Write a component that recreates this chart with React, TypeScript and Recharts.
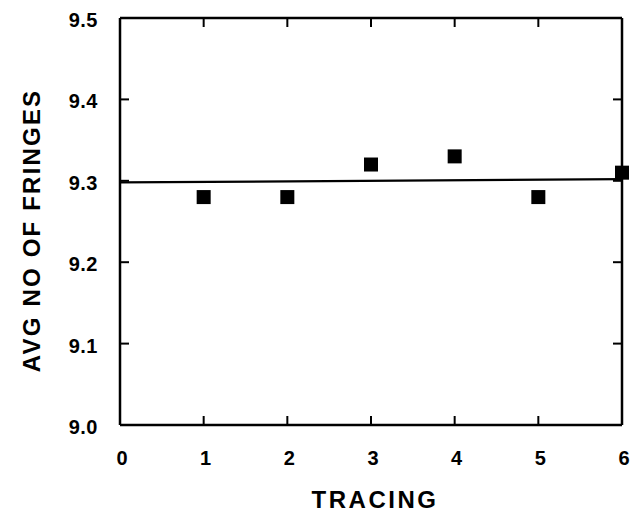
import { Label, Scatter, ScatterChart, XAxis, YAxis } from 'recharts'

const tracing = [1, 2, 3, 4, 5, 6]
const avgFringes = [9.28, 9.28, 9.32, 9.33, 9.28, 9.31]
const fitX = [0, 6]
const fitY = [9.298, 9.302]
const xTicks = [0, 1, 2, 3, 4, 5, 6]
const yTicks = [9.0, 9.1, 9.2, 9.3, 9.4, 9.5]

const points = tracing.map((x, i) => ({ x, y: avgFringes[i] }))
const fit = fitX.map((x, i) => ({ x, y: fitY[i] }))

const FONT = '"Liberation Sans", Arial, sans-serif'
const TICK = 9
const INK = '#000'
const frame = { stroke: INK, strokeWidth: 2.5 }
const tickStroke = { stroke: INK, strokeWidth: 2 }

function BottomTick({ x, y, payload }: any) {
  // y is the inner end of the tick line (axis - TICK)
  return (
    <text x={x + 2} y={y + TICK + 40} textAnchor="middle" fontFamily={FONT} fontWeight="bold" fontSize={20} fill={INK}>
      {payload.value}
    </text>
  )
}

function LeftTick({ x, y, payload }: any) {
  return (
    <text x={x - TICK - 22} y={y + 9} textAnchor="end" fontFamily={FONT} fontWeight="bold" fontSize={20} letterSpacing={0.5} fill={INK}>
      {Number(payload.value).toFixed(1)}
    </text>
  )
}

function NoTick() {
  return null
}

function SquareDot({ cx, cy }: any) {
  return <rect x={cx - 7} y={cy - 7} width={14} height={14} fill={INK} />
}

export default function App() {
  return (
    <div style={{ position: 'absolute', left: 0, top: 0, width: 638, height: 513, background: '#fff' }}>
      <ScatterChart width={638} height={513} margin={{ top: 17, right: 15, left: 0, bottom: 0 }}>
        <XAxis
          xAxisId="b"
          type="number"
          dataKey="x"
          domain={[0, 6]}
          ticks={xTicks}
          interval={0}
          height={88}
          tickSize={-TICK}
          tickMargin={0}
          tickLine={tickStroke}
          tick={<BottomTick />}
          axisLine={frame}
        >
          <Label
            content={({ viewBox }: any) => (
              <text
                x={viewBox.x + viewBox.width / 2 + 4}
                y={viewBox.y + 83}
                textAnchor="middle"
                fontFamily={FONT}
                fontWeight="bold"
                fontSize={24}
                letterSpacing={2.5}
                fill={INK}
              >
                TRACING
              </text>
            )}
          />
        </XAxis>
        <XAxis
          xAxisId="t"
          orientation="top"
          type="number"
          dataKey="x"
          domain={[0, 6]}
          ticks={xTicks}
          interval={0}
          height={1}
          tickSize={-TICK}
          tickMargin={0}
          tickLine={tickStroke}
          tick={<NoTick />}
          axisLine={frame}
        />
        <YAxis
          yAxisId="l"
          type="number"
          dataKey="y"
          domain={[9.0, 9.5]}
          ticks={yTicks}
          interval={0}
          width={120}
          tickSize={-TICK}
          tickMargin={0}
          tickLine={tickStroke}
          tick={<LeftTick />}
          axisLine={frame}
        >
          <Label
            content={({ viewBox }: any) => {
              const cx = 31
              const cy = viewBox.y + viewBox.height / 2 + 9
              return (
                <text
                  x={cx}
                  y={cy}
                  transform={`rotate(-90 ${cx} ${cy})`}
                  textAnchor="middle"
                  dominantBaseline="central"
                  fontFamily={FONT}
                  fontWeight="bold"
                  fontSize={24}
                  letterSpacing={2.2}
                  fill={INK}
                >
                  AVG NO OF FRINGES
                </text>
              )
            }}
          />
        </YAxis>
        <YAxis
          yAxisId="r"
          orientation="right"
          type="number"
          dataKey="y"
          domain={[9.0, 9.5]}
          ticks={yTicks}
          interval={0}
          width={1}
          tickSize={-TICK}
          tickMargin={0}
          tickLine={tickStroke}
          tick={<NoTick />}
          axisLine={frame}
        />
        <Scatter
          xAxisId="t"
          yAxisId="r"
          data={fit}
          line={{ stroke: INK, strokeWidth: 2.2 }}
          shape={() => <g />}
          isAnimationActive={false}
        />
        <Scatter xAxisId="b" yAxisId="l" data={points} shape={<SquareDot />} isAnimationActive={false} />
      </ScatterChart>
    </div>
  )
}
